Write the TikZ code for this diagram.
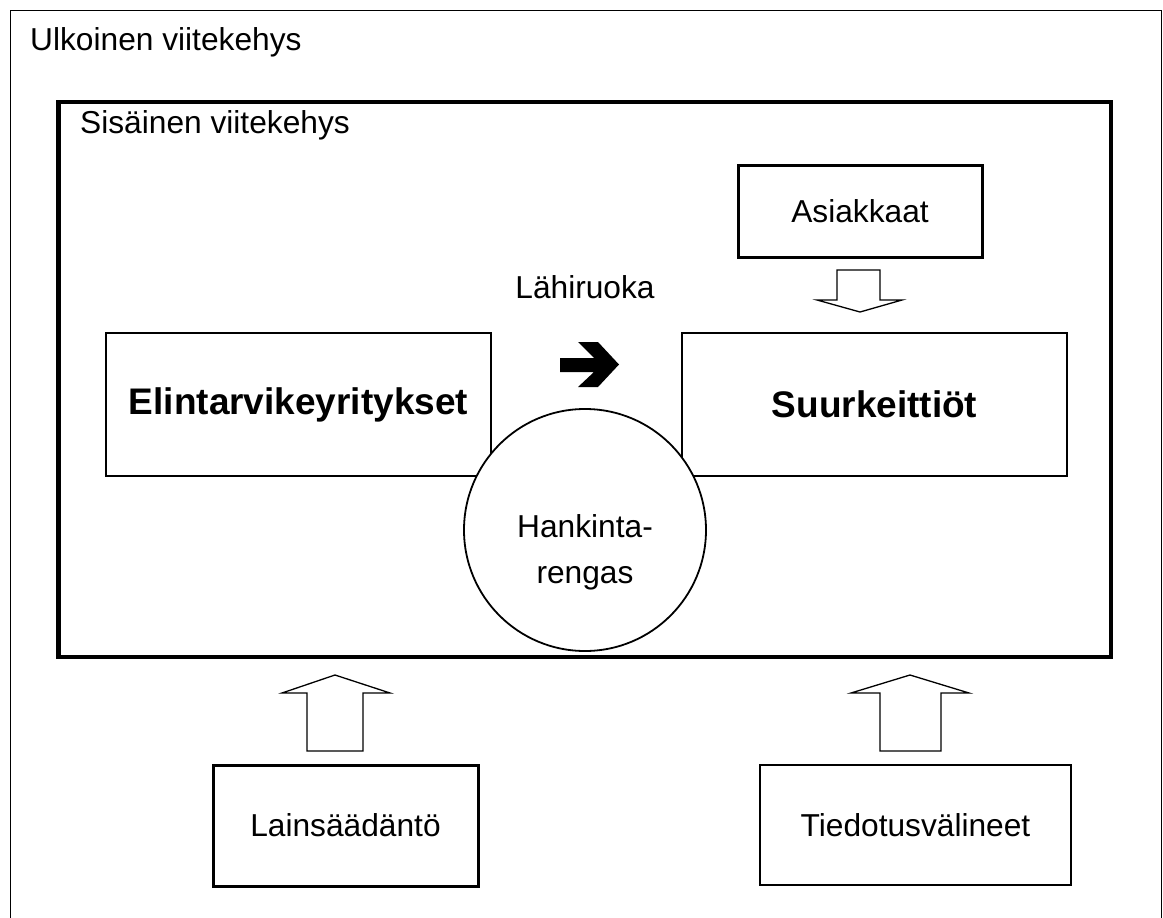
\documentclass[tikz,border=0pt]{standalone}
\usepackage{fontspec}
\setmainfont{Liberation Sans}
\newcommand\regf{\fontsize{31.7}{40}\selectfont}
\newcommand\bldf{\fontsize{37}{44}\selectfont\bfseries}
\begin{document}
\begin{tikzpicture}[x=1pt,y=-1pt,
  txt/.style={inner sep=0pt, font=\regf},
  thinbox/.style={draw, line width=1.3pt, inner sep=0pt, fill=white},
  thickbox/.style={draw, line width=3pt, inner sep=0pt, fill=white},
  blockarrow/.style={draw, line width=1.3pt, fill=white, line join=miter},
]
\useasboundingbox (0,0) rectangle (1163,918);
\clip (0,0) rectangle (1163,918);
\fill[white] (0,0) rectangle (1163,918);
% outer frame
\draw[line width=1.5pt] (10.5,940) -- (10.5,10.5) -- (1161.5,10.5) -- (1161.5,940);
\node[txt, anchor=base west] (ulk) at (30,50) {Ulkoinen viitekehys};
% inner frame
\draw[line width=4.5pt] (58.5,102) rectangle (1111,657);
\node[txt, anchor=base west] (sis) at (80,133) {Sisäinen viitekehys};
% boxes
\node[thinbox, minimum width=385pt, minimum height=143pt, font=\bldf] (elin) at (298.5,404.5) {Elintarvikeyritykset};
\node[thinbox, minimum width=385pt, minimum height=143pt, font=\bldf] (suur) at (874.5,404.5) {Suurkeittiöt};
\node[thickbox, minimum width=244pt, minimum height=92pt, font=\regf] (asi) at (860,211) {Asiakkaat};
\node[thickbox, minimum width=265pt, minimum height=121pt, font=\regf] (lain) at (345.5,825.5) {Lainsäädäntö};
\node[thinbox, minimum width=311pt, minimum height=120pt, font=\regf] (tied) at (915.5,825) {Tiedotusvälineet};
% circle
\node[circle, draw, line width=1.8pt, fill=white, minimum size=242pt, inner sep=0pt] (hank) at (585,530) {};
\node[txt, align=center, font=\fontsize{31.7}{46}\selectfont] (hanktxt) at (585,552) {Hankinta-\\rengas};
% Lähiruoka
\node[txt, anchor=base] (lahi) at (585,298) {Lähiruoka};
\fill (560,358) -- (594,358) -- (578,342) -- (598,342) -- (619,364.5) -- (598,387) -- (578,387) -- (594,372) -- (560,372) -- cycle;
% block arrow down from Asiakkaat
\draw[blockarrow] (837,270) -- (880,270) -- (880,300) -- (902,300) -- (860,312) -- (817,300) -- (837,300) -- cycle;
% block arrows up
\draw[blockarrow] (307,751) -- (363,751) -- (363,693) -- (390,693) -- (335,675) -- (282,693) -- (307,693) -- cycle;
\draw[blockarrow] (880,751) -- (941,751) -- (941,693) -- (969,693) -- (910,675) -- (851,693) -- (880,693) -- cycle;
\end{tikzpicture}
\end{document}
